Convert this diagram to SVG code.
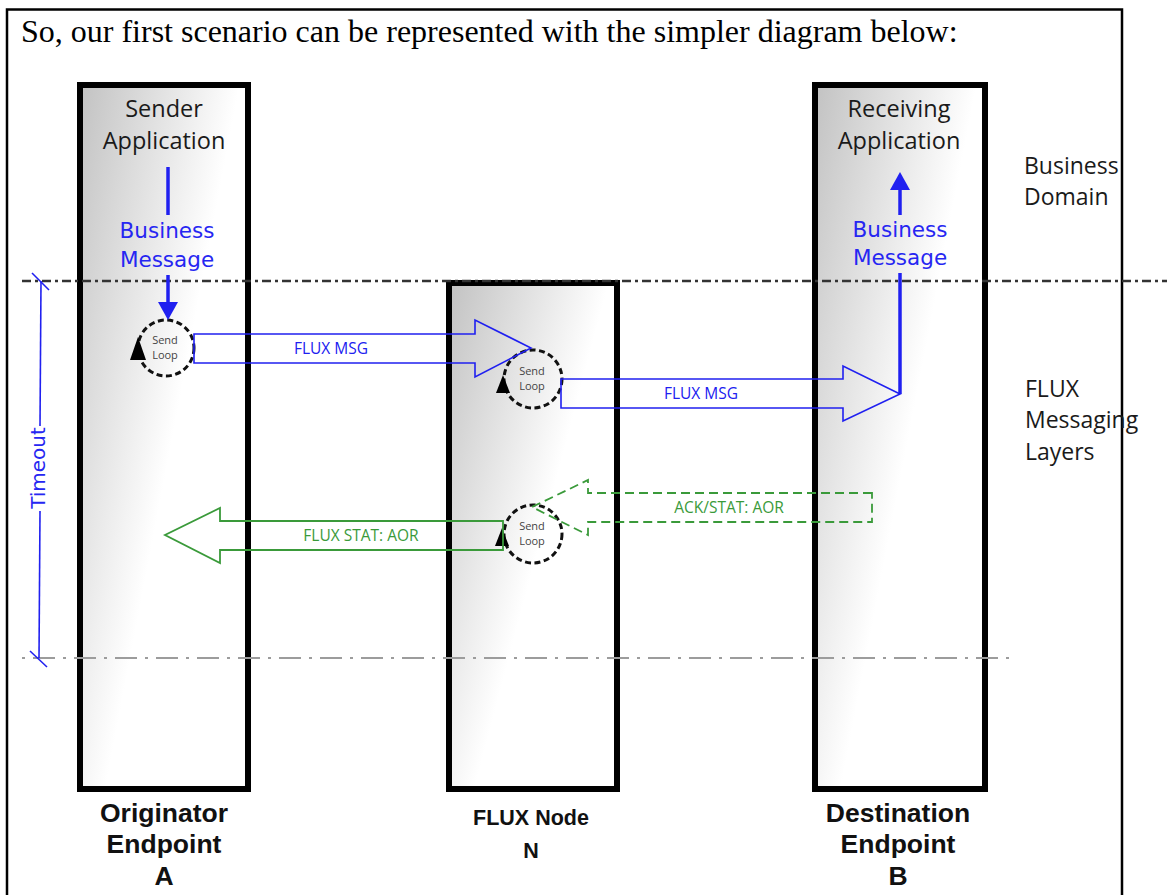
<svg xmlns="http://www.w3.org/2000/svg" width="1167" height="895" viewBox="0 0 1167 895">
  <defs>
    <linearGradient id="colFill" x1="0" y1="0" x2="1" y2="0.8">
      <stop offset="0" stop-color="#c2c2c2"/>
      <stop offset="0.58" stop-color="#ffffff"/>
    </linearGradient>
    <marker id="blueHead" viewBox="0 0 18 20" refX="0" refY="10" markerWidth="18" markerHeight="20" markerUnits="userSpaceOnUse" orient="auto">
      <path d="M0,0 L18,10 L0,20 z" fill="#2020f0"/>
    </marker>
    <style>
      .col { fill: url(#colFill); stroke: #000; stroke-width: 6; }
      .cal { font-family: "Open Sans", "Noto Sans", sans-serif; fill: #1a1a1a; text-anchor: middle; }
      .side { font-family: "Open Sans", "Noto Sans", sans-serif; fill: #1a1a1a; font-size: 23px; }
      .bold { font-family: "Liberation Sans", Arial, sans-serif; font-weight: bold; fill: #111; text-anchor: middle; }
      .bluetxt { font-family: "DejaVu Sans", sans-serif; fill: #2626f2; text-anchor: middle; font-size: 21.5px; }
      .small { font-family: "Open Sans", "Noto Sans", sans-serif; font-size: 15.5px; text-anchor: middle; }
      .loop { fill: none; stroke: #111; stroke-width: 3; stroke-dasharray: 6 3.5; }
      .looptxt { font-family: "Open Sans", "Noto Sans", sans-serif; font-size: 11px; fill: #444; text-anchor: middle; }
      .blueLine { stroke: #2020f0; stroke-width: 3.5; fill: none; }
      .blueBlock { stroke: #2020f0; stroke-width: 1.6; fill: none; }
      .greenBlock { stroke: #3a9a3a; stroke-width: 1.8; fill: none; }
    </style>
  </defs>

  <rect width="1167" height="895" fill="#fff"/>

  <!-- page frame -->
  <path d="M7,895 L7,9.5 L1122,9.5 L1122,895" fill="none" stroke="#000" stroke-width="2.5"/>

  <text x="21" y="42" font-family="Liberation Serif, 'Times New Roman', serif" font-size="32" fill="#000">So, our first scenario can be represented with the simpler diagram below:</text>

  <!-- Originator endpoint column -->
  <g id="originator-a">
    <rect class="col" x="80" y="85" width="168" height="704"/>
    <text class="cal" font-size="23.5" x="164" y="117">Sender</text>
    <text class="cal" font-size="23.5" x="164" y="149">Application</text>
    <text class="bluetxt" x="167" y="238">Business</text>
    <text class="bluetxt" x="167" y="267">Message</text>
    <text class="bold" font-size="26.5" x="164" y="822">Originator</text>
    <text class="bold" font-size="26.5" x="164" y="853">Endpoint</text>
    <text class="bold" font-size="26.5" x="164" y="885">A</text>
  </g>

  <!-- FLUX node column -->
  <g id="flux-node-n">
    <rect class="col" x="449" y="283" width="168" height="506"/>
    <text class="bold" font-size="21.5" x="531" y="825">FLUX Node</text>
    <text class="bold" font-size="21.5" x="531" y="858">N</text>
  </g>

  <!-- Destination endpoint column -->
  <g id="destination-b">
    <rect class="col" x="815" y="85" width="170" height="704"/>
    <text class="cal" font-size="23.5" x="899" y="117">Receiving</text>
    <text class="cal" font-size="23.5" x="899" y="149">Application</text>
    <text class="bluetxt" x="900" y="237">Business</text>
    <text class="bluetxt" x="900" y="265">Message</text>
    <text class="bold" font-size="26.5" x="898" y="822">Destination</text>
    <text class="bold" font-size="26.5" x="898" y="853">Endpoint</text>
    <text class="bold" font-size="26.5" x="898" y="885">B</text>
  </g>

  <!-- layer labels -->
  <g id="layer-labels">
    <text class="side" x="1024" y="174">Business</text>
    <text class="side" x="1024" y="205">Domain</text>
    <text class="side" x="1025" y="397">FLUX</text>
    <text class="side" x="1025" y="428">Messaging</text>
    <text class="side" x="1025" y="460">Layers</text>
  </g>

  <!-- layer boundaries -->
  <g id="boundaries">
    <line x1="22" y1="281" x2="1167" y2="281" stroke="#333" stroke-width="2.5" stroke-dasharray="9 4 3 4"/>
    <line x1="22" y1="658" x2="1013" y2="658" stroke="#9c9c9c" stroke-width="2" stroke-dasharray="3 8 22 8"/>
  </g>

  <!-- send loops -->
  <g id="loop-a">
    <circle class="loop" cx="166" cy="348" r="28"/>
    <polygon points="138,337 130,360 146,360" fill="#000"/>
    <text class="looptxt" x="165" y="344">Send</text>
    <text class="looptxt" x="165" y="359">Loop</text>
  </g>
  <g id="loop-n1">
    <circle class="loop" cx="533" cy="379" r="29"/>
    <polygon points="503,375 496,393 510,393" fill="#000"/>
    <text class="looptxt" x="532" y="375">Send</text>
    <text class="looptxt" x="532" y="390">Loop</text>
  </g>
  <g id="loop-n2">
    <circle class="loop" cx="533" cy="534" r="29"/>
    <polygon points="502,528 495,546 509,546" fill="#000"/>
    <text class="looptxt" x="532" y="530">Send</text>
    <text class="looptxt" x="532" y="545">Loop</text>
  </g>

  <!-- connectors -->
  <g id="connectors">
    <line class="blueLine" x1="168" y1="167" x2="168" y2="215"/>
    <line class="blueLine" x1="168" y1="275" x2="168" y2="302" marker-end="url(#blueHead)"/>
    <polygon class="blueBlock" points="194,334 475,334 475,320 531,348 475,377 475,363 194,363"/>
    <text class="small" fill="#2020f0" x="331" y="354">FLUX MSG</text>
    <polygon class="blueBlock" points="561,379 843,379 843,366 900,394 843,421 843,408 561,408"/>
    <text class="small" fill="#2020f0" x="701" y="399">FLUX MSG</text>
    <line class="blueLine" x1="900" y1="394" x2="900" y2="273"/>
    <line class="blueLine" x1="900" y1="215" x2="900" y2="190" marker-end="url(#blueHead)"/>

    <polygon class="greenBlock" points="872,493 588,493 588,480 532,507 588,535 588,522 872,522" stroke-dasharray="9 5"/>
    <text class="small" fill="#3a9a3a" x="729" y="513">ACK/STAT: AOR</text>
    <polygon class="greenBlock" points="503,521 220,521 220,508 165,535 220,563 220,550 503,550"/>
    <text class="small" fill="#3a9a3a" x="361" y="541">FLUX STAT: AOR</text>

    <!-- timeout span -->
    <line x1="41" y1="281" x2="40" y2="426" stroke="#2020f0" stroke-width="1.6"/>
    <line x1="40" y1="511" x2="39" y2="658" stroke="#2020f0" stroke-width="1.6"/>
    <line x1="32" y1="273" x2="49" y2="290" stroke="#2020f0" stroke-width="1.6"/>
    <line x1="30" y1="651" x2="47" y2="667" stroke="#2020f0" stroke-width="1.6"/>
    <text transform="translate(45,468) rotate(-90)" font-family="DejaVu Sans, sans-serif" font-size="20" fill="#2626f2" text-anchor="middle">Timeout</text>
  </g>
</svg>
